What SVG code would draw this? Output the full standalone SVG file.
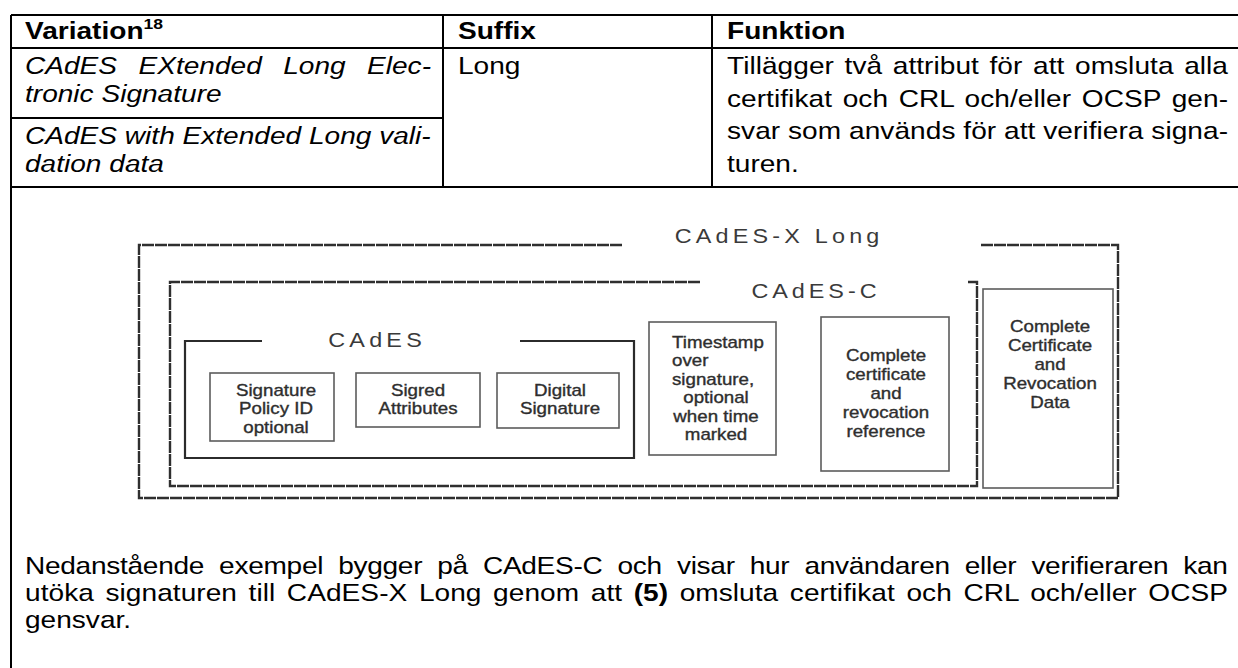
<svg xmlns="http://www.w3.org/2000/svg" width="1238" height="668" viewBox="0 0 1238 668">
  <style>
    .t { font-family: "Liberation Sans", Arial, sans-serif; font-size: 24px; fill: #000; }
    .b { font-weight: bold; }
    .i { font-style: italic; }
    .d { font-family: "Liberation Sans", Arial, sans-serif; font-size: 16px; fill: #2e2e2e; stroke: #2e2e2e; stroke-width: 0.35; text-anchor: middle; }
    .dl { text-anchor: start; }
    .ttl { font-size: 20px; fill: #3a3a3a; stroke: none; }
    .grid { stroke: #000; stroke-width: 2; fill: none; }
    .dash { stroke: #2f2f2f; stroke-width: 2.4; fill: none; stroke-dasharray: 12 1; }
    .solid { stroke: #2b2b2b; stroke-width: 2.2; fill: none; }
    .box { stroke: #5c5c5c; stroke-width: 1.6; fill: #fff; }
  </style>
  <rect width="1238" height="668" fill="#fff"/>

  <!-- table frame -->
  <g id="table-grid" class="grid">
    <path d="M11 15 H1238 M11 48 H1238 M11 118 H443 M11 187 H1238"/>
    <path d="M11 15 V668 M443 15 V187 M712 15 V187"/>
  </g>

  <!-- table cells -->
  <g id="table-text">
    <text class="t b" transform="matrix(1.17 0 0 1 25 39)">Variation<tspan font-size="15" dy="-10">18</tspan></text>
    <text class="t b" transform="matrix(1.17 0 0 1 458 39)">Suffix</text>
    <text class="t b" transform="matrix(1.17 0 0 1 727 39)">Funktion</text>

    <text class="t i" transform="matrix(1.17 0 0 1 25 74)" word-spacing="11.6" textLength="347" lengthAdjust="spacing">CAdES EXtended Long Elec-</text>
    <text class="t i" transform="matrix(1.17 0 0 1 25 101.6)">tronic Signature</text>
    <text class="t i" transform="matrix(1.17 0 0 1 25 144)">CAdES with Extended Long vali-</text>
    <text class="t i" transform="matrix(1.17 0 0 1 25 171.6)">dation data</text>

    <text class="t" transform="matrix(1.17 0 0 1 458 74)">Long</text>

    <text class="t" transform="matrix(1.17 0 0 1 727 74)" word-spacing="2.4" textLength="428.2" lengthAdjust="spacing">Tillägger två attribut för att omsluta alla</text>
    <text class="t" transform="matrix(1.17 0 0 1 727 106.5)" word-spacing="2.4" textLength="428.2" lengthAdjust="spacing">certifikat och CRL och/eller OCSP gen-</text>
    <text class="t" transform="matrix(1.17 0 0 1 727 139)" textLength="428.2" lengthAdjust="spacing">svar som används för att verifiera signa-</text>
    <text class="t" transform="matrix(1.17 0 0 1 727 171.6)">turen.</text>
  </g>

  <!-- CAdES-X Long container -->
  <g id="cades-x-long">
    <path class="dash" d="M622 245 H139 V498 H1118 V245 H980"/>
    <text class="d ttl" transform="matrix(1.17 0 0 1 777 243)" textLength="175" lengthAdjust="spacing">CAdES-X Long</text>
  </g>

  <!-- CAdES-C container -->
  <g id="cades-c">
    <path class="dash" d="M700 282 H170 V486 H977 V282 H967"/>
    <text class="d ttl" transform="matrix(1.17 0 0 1 814 298)" textLength="107" lengthAdjust="spacing">CAdES-C</text>
  </g>

  <!-- CAdES container -->
  <g id="cades">
    <path class="solid" d="M262 341 H185 V458 H634 V341 H520"/>
    <text class="d ttl" transform="matrix(1.17 0 0 1 375 347)" textLength="80" lengthAdjust="spacing">CAdES</text>
  </g>

  <g id="signature-policy-id">
    <rect class="box" x="210" y="373" width="124" height="68"/>
    <text class="d" transform="matrix(1.17 0 0 1 276 395.5)"><tspan x="0">Signature</tspan><tspan x="0" dy="18.6">Policy ID</tspan><tspan x="0" dy="18.6">optional</tspan></text>
  </g>

  <g id="signed-attributes">
    <rect class="box" x="356" y="373" width="124" height="54"/>
    <text class="d" transform="matrix(1.17 0 0 1 418 395.5)"><tspan x="0">Sigred</tspan><tspan x="0" dy="18.6">Attributes</tspan></text>
  </g>

  <g id="digital-signature">
    <rect class="box" x="497" y="373" width="122" height="55"/>
    <text class="d" transform="matrix(1.17 0 0 1 560 395.5)"><tspan x="0">Digital</tspan><tspan x="0" dy="18.6">Signature</tspan></text>
  </g>

  <g id="timestamp">
    <rect class="box" x="649" y="322" width="127" height="133"/>
    <text class="d dl" transform="matrix(1.17 0 0 1 672 347.5)"><tspan x="0">Timestamp</tspan><tspan x="0" dy="18.6">over</tspan><tspan x="0" dy="18.6">signature,</tspan></text>
    <text class="d" transform="matrix(1.17 0 0 1 716 403.3)"><tspan x="0">optional</tspan><tspan x="0" dy="18.6">when time</tspan><tspan x="0" dy="18.6">marked</tspan></text>
  </g>

  <g id="complete-certificate-reference">
    <rect class="box" x="821" y="317" width="128" height="154"/>
    <text class="d" transform="matrix(1.17 0 0 1 886 361)"><tspan x="0">Complete</tspan><tspan x="0" dy="19">certificate</tspan><tspan x="0" dy="19">and</tspan><tspan x="0" dy="19">revocation</tspan><tspan x="0" dy="19">reference</tspan></text>
  </g>

  <g id="complete-certificate-data">
    <rect class="box" x="983" y="289" width="130" height="199"/>
    <text class="d" transform="matrix(1.17 0 0 1 1050 332)"><tspan x="0">Complete</tspan><tspan x="0" dy="19">Certificate</tspan><tspan x="0" dy="19">and</tspan><tspan x="0" dy="19">Revocation</tspan><tspan x="0" dy="19">Data</tspan></text>
  </g>

  <!-- paragraph below the figure -->
  <g id="paragraph">
    <text class="t" transform="matrix(1.17 0 0 1 25 574)" word-spacing="6.4" textLength="1028.2" lengthAdjust="spacing">Nedanstående exempel bygger på CAdES-C och visar hur användaren eller verifieraren kan</text>
    <text class="t" transform="matrix(1.17 0 0 1 25 601)" word-spacing="3.2" textLength="1028.2" lengthAdjust="spacing">utöka signaturen till CAdES-X Long genom att <tspan class="b">(5)</tspan> omsluta certifikat och CRL och/eller OCSP</text>
    <text class="t" transform="matrix(1.17 0 0 1 25 628)">gensvar.</text>
  </g>
</svg>
